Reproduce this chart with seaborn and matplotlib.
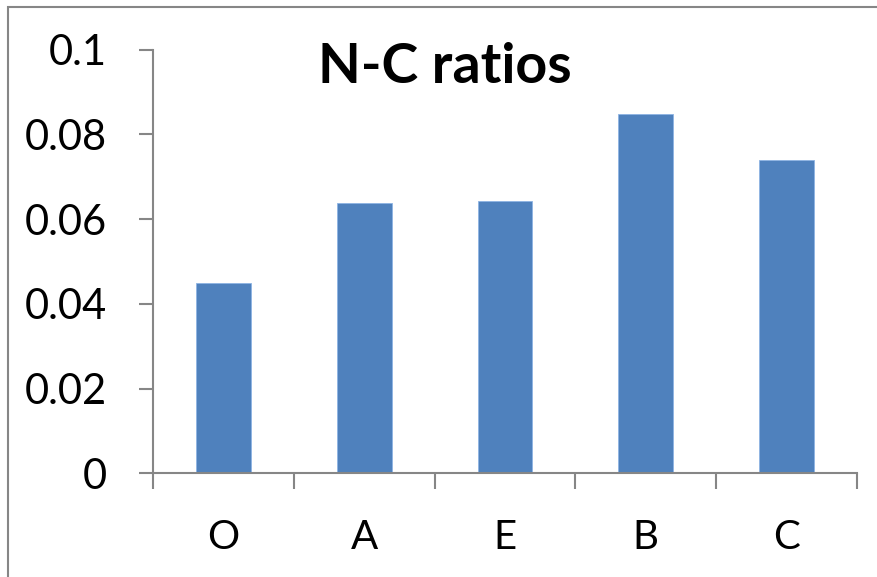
import matplotlib
matplotlib.use("Agg")
import matplotlib.pyplot as plt
import seaborn as sns
import pandas as pd
from matplotlib.patches import Rectangle

categories = ["O", "A", "E", "B", "C"]
ratios = [0.0448, 0.0637, 0.0642, 0.0848, 0.0740]
y_ticks = [0, 0.02, 0.04, 0.06, 0.08, 0.1]
y_tick_labels = ["0", "0.02", "0.04", "0.06", "0.08", "0.1"]

sns.set_theme(style="white")
plt.rcParams["font.family"] = ["Lato", "DejaVu Sans"]

df = pd.DataFrame({"group": categories, "ratio": ratios})

W, H = 877, 577
fig = plt.figure(figsize=(W / 100, H / 100), dpi=100)
fig.patch.set_facecolor("white")

# outer chart frame
fig.patches.append(Rectangle((8 / W, -0.05), 1.2, (H - 7) / H + 0.05,
                             transform=fig.transFigure, fill=False,
                             edgecolor="#868686", linewidth=1.5))

ax = fig.add_axes([153 / W, (H - 473.3) / H, 704 / W, 423.8 / H])
sns.barplot(data=df, x="group", y="ratio", order=categories, color="#4F81BD",
            width=0.39, saturation=1, edgecolor="#8EB4E3", linewidth=0.6, ax=ax)

ax.set_xlim(-0.5, len(categories) - 0.5)
ax.set_ylim(0, 0.1)
ax.set_xlabel("")
ax.set_ylabel("")

for s in ["top", "right"]:
    ax.spines[s].set_visible(False)
for s in ["left", "bottom"]:
    ax.spines[s].set_color("#868686")
    ax.spines[s].set_linewidth(1.5)

ax.set_yticks(y_ticks)
ax.set_yticklabels(y_tick_labels)
ax.tick_params(axis="y", direction="out", length=10, width=1.5, color="#868686",
               pad=23, labelsize=30, labelcolor="black", left=True)

# labels at category centers, tick marks at category boundaries
ax.set_xticks(range(len(categories)))
ax.set_xticklabels(categories)
ax.tick_params(axis="x", which="major", length=0, pad=33, labelsize=29,
               labelcolor="black")
ax.set_xticks([i - 0.5 for i in range(len(categories) + 1)], minor=True)
ax.tick_params(axis="x", which="minor", direction="out", length=11.5, width=1.5,
               color="#868686", bottom=True)

fig.text(445 / W, 1 - 67 / H, "N-C ratios", ha="center", va="center",
         fontsize=40, fontweight="bold", color="black")

fig.savefig("out.png", dpi=100, facecolor="white")
